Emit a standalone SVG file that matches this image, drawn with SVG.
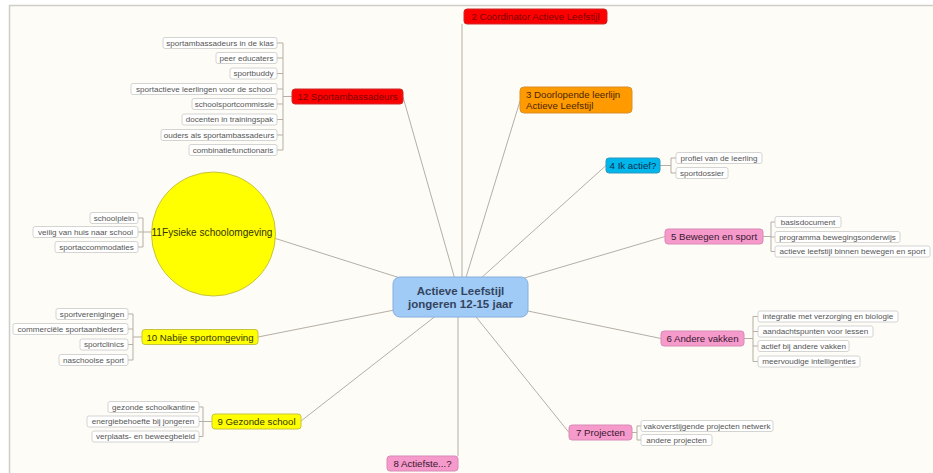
<svg xmlns="http://www.w3.org/2000/svg" width="933" height="473" viewBox="0 0 933 473">
  <style>
    .link { stroke: #b5afa6; stroke-width: 1; fill: none; }
    .leaf rect { fill: #ffffff; stroke: #c9c9c9; stroke-width: 0.8; }
    .leaf text { font-family: "Liberation Sans", Arial, sans-serif; font-size: 8.1px; fill: #555; text-anchor: middle; }
    .topic text { font-family: "Liberation Sans", Arial, sans-serif; font-size: 9.7px; text-anchor: middle; }
    .red rect { fill: #ff0000; stroke: #cc2a2a; }
    .red text { fill: #7a0000; }
    .orange rect { fill: #ff9a00; stroke: #d9902a; }
    .orange text { fill: #4a2600; }
    .cyan rect { fill: #00b6ea; stroke: #2a98c0; }
    .cyan text { fill: #0e2c4c; }
    .pink rect { fill: #f59acb; stroke: #d98ab6; }
    .pink text { fill: #3a1830; }
    .yellow rect, .yellow circle { fill: #ffff00; stroke: #c8c43a; }
    .yellow text { fill: #333300; }
  </style>

  <!-- canvas -->
  <rect x="0" y="0" width="933" height="473" fill="#ffffff"/>
  <rect x="9" y="6" width="924" height="467" fill="#fdfcf6"/>
  <line x1="9" y1="5.5" x2="933" y2="5.5" stroke="#cfcdc8" stroke-width="1.5"/>
  <line x1="9.5" y1="5" x2="9.5" y2="473" stroke="#cfcdc8" stroke-width="1.5"/>

  <!-- connectors -->
  <g id="connectors">
    <!-- main branches -->
    <line class="link" x1="403" y1="97" x2="460" y2="297"/>
    <line class="link" x1="462" y1="24" x2="462" y2="297"/>
    <line class="link" x1="520" y1="101" x2="460" y2="297"/>
    <line class="link" x1="606" y1="165.5" x2="460" y2="297"/>
    <line class="link" x1="665" y1="236.5" x2="460" y2="297"/>
    <line class="link" x1="661" y1="338.5" x2="460" y2="297"/>
    <line class="link" x1="569" y1="432.5" x2="460" y2="297"/>
    <line class="link" x1="458" y1="297" x2="458" y2="456"/>
    <line class="link" x1="301" y1="421" x2="460" y2="297"/>
    <line class="link" x1="258" y1="337" x2="460" y2="297"/>
    <line class="link" x1="274" y1="238" x2="460" y2="297"/>

    <!-- 12 leaves -->
    <path class="link" d="M292 96.5 H283 M283 43 V150 M277 43 H283 M277 58 H283 M277 73.5 H283 M277 89 H283 M277 104 H283 M277 119.5 H283 M277 135 H283 M277 150 H283"/>
    <!-- 11 leaves -->
    <path class="link" d="M151 232 H143 M143 218 V247 M138 218 H143 M138 232 H143 M138 247 H143"/>
    <!-- 10 leaves -->
    <path class="link" d="M142 337 H133 M133 314 V360 M128 314 H133 M128 329 H133 M128 344.5 H133 M128 360 H133"/>
    <!-- 9 leaves -->
    <path class="link" d="M212 421.5 H203 M203 407 V436.5 M199 407 H203 M199 421.5 H203 M199 436.5 H203"/>
    <!-- 4 leaves -->
    <path class="link" d="M660 165.5 H671 M671 158 V173 M671 158 H676 M671 173 H676"/>
    <!-- 5 leaves -->
    <path class="link" d="M763 236.5 H771 M771 222 V251.5 M771 222 H775 M771 237 H775 M771 251.5 H775"/>
    <!-- 6 leaves -->
    <path class="link" d="M744 338.5 H753 M753 316.5 V361.5 M753 316.5 H758 M753 331.5 H758 M753 346 H758 M753 361.5 H758"/>
    <!-- 7 leaves -->
    <path class="link" d="M632 432.5 H637 M637 426 V440 M637 426 H641 M637 440 H641"/>
  </g>

  <!-- central topic -->
  <g id="center">
    <rect x="393" y="277" width="135" height="40" rx="7" fill="#a0cbf6" stroke="#86aede" stroke-width="1"/>
    <text x="460.5" y="294.5" font-family="Liberation Sans, Arial, sans-serif" font-size="11.5" font-weight="bold" fill="#34445e" text-anchor="middle">Actieve Leefstijl</text>
    <text x="460.5" y="307.5" font-family="Liberation Sans, Arial, sans-serif" font-size="11.5" font-weight="bold" fill="#34445e" text-anchor="middle">jongeren 12-15 jaar</text>
  </g>

  <!-- 2 -->
  <g id="node2" class="topic red">
    <rect x="464" y="9" width="143" height="15" rx="3"/>
    <text x="535.5" y="19.8">2 Coördinator Actieve Leefstijl</text>
  </g>

  <!-- 3 -->
  <g id="node3" class="topic orange">
    <rect x="520" y="87" width="112" height="26" rx="4"/>
    <text x="526" y="98" style="text-anchor:start">3 Doorlopende leerlijn</text>
    <text x="526" y="109" style="text-anchor:start">Actieve Leefstijl</text>
  </g>

  <!-- 4 -->
  <g id="node4" class="topic cyan">
    <rect x="606" y="158" width="54" height="15" rx="3"/>
    <text x="633" y="168.8">4 Ik actief?</text>
  </g>
  <g id="node4-leaves" class="leaf">
    <rect x="676" y="152.5" width="86" height="11" rx="2"/>
    <text x="719" y="160.9">profiel van de leerling</text>
    <rect x="676" y="167.5" width="52" height="11" rx="2"/>
    <text x="702" y="175.9">sportdossier</text>
  </g>

  <!-- 5 -->
  <g id="node5" class="topic pink">
    <rect x="665" y="229" width="98" height="15" rx="3"/>
    <text x="714" y="240">5 Bewegen en sport</text>
  </g>
  <g id="node5-leaves" class="leaf">
    <rect x="775" y="216.5" width="66" height="11" rx="2"/>
    <text x="808" y="224.9">basisdocument</text>
    <rect x="775" y="231.5" width="125" height="11" rx="2"/>
    <text x="837.5" y="239.9">programma bewegingsonderwijs</text>
    <rect x="775" y="246" width="155" height="11" rx="2"/>
    <text x="852.5" y="254.4">actieve leefstijl binnen bewegen en sport</text>
  </g>

  <!-- 6 -->
  <g id="node6" class="topic pink">
    <rect x="661" y="331" width="83" height="15" rx="3"/>
    <text x="702.5" y="342">6 Andere vakken</text>
  </g>
  <g id="node6-leaves" class="leaf">
    <rect x="758" y="311" width="140" height="11" rx="2"/>
    <text x="828" y="319.4">integratie met verzorging en biologie</text>
    <rect x="758" y="326" width="115" height="11" rx="2"/>
    <text x="815.5" y="334.4">aandachtspunten voor lessen</text>
    <rect x="758" y="340.5" width="91" height="11" rx="2"/>
    <text x="803.5" y="348.9">actief bij andere vakken</text>
    <rect x="758" y="356" width="102" height="11" rx="2"/>
    <text x="809" y="364.4">meervoudige intelligenties</text>
  </g>

  <!-- 7 -->
  <g id="node7" class="topic pink">
    <rect x="569" y="425" width="63" height="15" rx="3"/>
    <text x="600.5" y="436">7 Projecten</text>
  </g>
  <g id="node7-leaves" class="leaf">
    <rect x="641" y="420.5" width="132" height="11" rx="2"/>
    <text x="707" y="428.9">vakoverstijgende projecten netwerk</text>
    <rect x="641" y="434.5" width="71" height="11" rx="2"/>
    <text x="676.5" y="442.9">andere projecten</text>
  </g>

  <!-- 8 -->
  <g id="node8" class="topic pink">
    <rect x="387" y="456" width="71" height="15" rx="3"/>
    <text x="422.5" y="467">8 Actiefste...?</text>
  </g>

  <!-- 9 -->
  <g id="node9" class="topic yellow">
    <rect x="212" y="414" width="89" height="15" rx="3"/>
    <text x="256.5" y="425">9 Gezonde school</text>
  </g>
  <g id="node9-leaves" class="leaf">
    <rect x="108" y="401.5" width="91" height="11" rx="2"/>
    <text x="153.5" y="409.9">gezonde schoolkantine</text>
    <rect x="87" y="416" width="112" height="11" rx="2"/>
    <text x="143" y="424.4">energiebehoefte bij jongeren</text>
    <rect x="92" y="431" width="107" height="11" rx="2"/>
    <text x="145.5" y="439.4">verplaats- en beweegbeleid</text>
  </g>

  <!-- 10 -->
  <g id="node10" class="topic yellow">
    <rect x="142" y="329.5" width="116" height="15" rx="3"/>
    <text x="200" y="340.5">10 Nabije sportomgeving</text>
  </g>
  <g id="node10-leaves" class="leaf">
    <rect x="56" y="308.5" width="72" height="11" rx="2"/>
    <text x="92" y="316.9">sportverenigingen</text>
    <rect x="13" y="323.5" width="115" height="11" rx="2"/>
    <text x="70.5" y="331.9">commerciële sportaanbieders</text>
    <rect x="80" y="339" width="48" height="11" rx="2"/>
    <text x="104" y="347.4">sportclinics</text>
    <rect x="59" y="354.5" width="69" height="11" rx="2"/>
    <text x="93.5" y="362.9">naschoolse sport</text>
  </g>

  <!-- 11 -->
  <g id="node11" class="topic yellow">
    <circle cx="213.5" cy="234" r="62"/>
    <text x="212" y="235.5" style="font-size:10.1px">11Fysieke schoolomgeving</text>
  </g>
  <g id="node11-leaves" class="leaf">
    <rect x="90" y="212.5" width="48" height="11" rx="2"/>
    <text x="114" y="220.9">schoolplein</text>
    <rect x="33" y="226.5" width="105" height="11" rx="2"/>
    <text x="85.5" y="234.9">veilig van huis naar school</text>
    <rect x="55" y="241.5" width="83" height="11" rx="2"/>
    <text x="96.5" y="249.9">sportaccommodaties</text>
  </g>

  <!-- 12 -->
  <g id="node12" class="topic red">
    <rect x="292" y="89" width="111" height="15" rx="3"/>
    <text x="347.5" y="100">12 Sportambassadeurs</text>
  </g>
  <g id="node12-leaves" class="leaf">
    <rect x="163" y="37.5" width="114" height="11" rx="2"/>
    <text x="220" y="45.9">sportambassadeurs in de klas</text>
    <rect x="216" y="52.5" width="61" height="11" rx="2"/>
    <text x="246.5" y="60.9">peer educaters</text>
    <rect x="230" y="68" width="47" height="11" rx="2"/>
    <text x="253.5" y="76.4">sportbuddy</text>
    <rect x="131" y="83.5" width="146" height="11" rx="2"/>
    <text x="204" y="91.9">sportactieve leerlingen voor de school</text>
    <rect x="192" y="98.5" width="85" height="11" rx="2"/>
    <text x="234.5" y="106.9">schoolsportcommissie</text>
    <rect x="182" y="114" width="95" height="11" rx="2"/>
    <text x="229.5" y="122.4">docenten in trainingspak</text>
    <rect x="161" y="129.5" width="116" height="11" rx="2"/>
    <text x="219" y="137.9">ouders als sportambassadeurs</text>
    <rect x="189" y="144.5" width="88" height="11" rx="2"/>
    <text x="233" y="152.9">combinatiefunctionaris</text>
  </g>
</svg>
